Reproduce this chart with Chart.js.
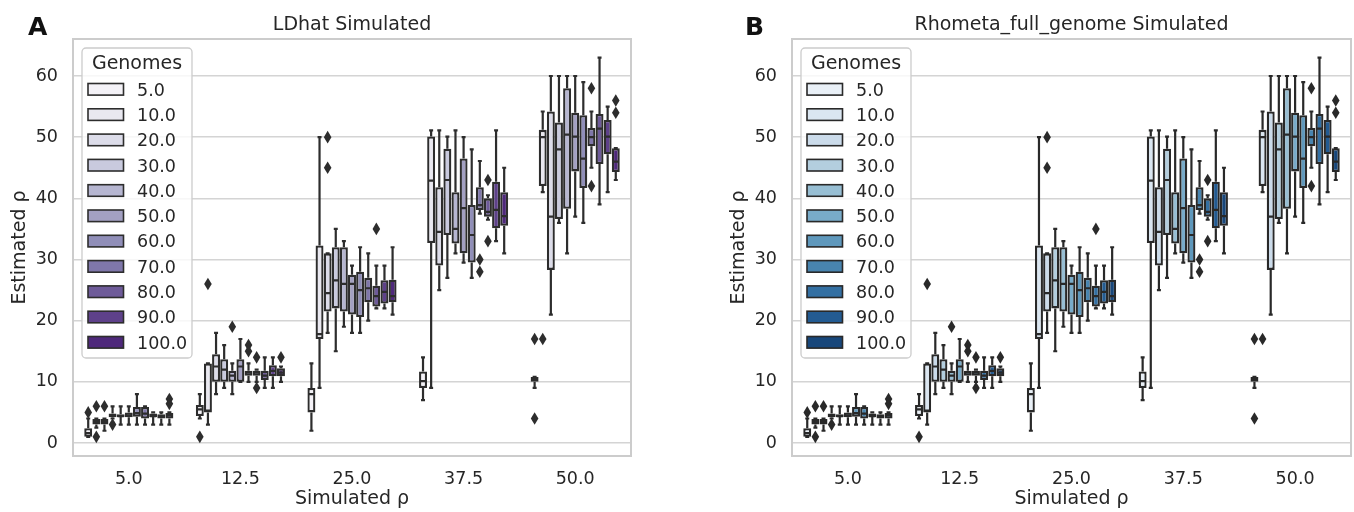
<!DOCTYPE html>
<html>
<head>
<meta charset="utf-8">
<script src="https://cdn.jsdelivr.net/npm/chart.js@4.4.1/dist/chart.umd.min.js"></script>
<style>
	html, body { margin: 0; padding: 0; background: #fff; }
	body { width: 1354px; height: 512px; position: relative; overflow: hidden; }
	canvas { position: absolute; top: 0; }
	#chart-a { left: 0; }
	#chart-b { left: 719px; }
</style>
</head>
<body>
<canvas id="chart-a" width="641" height="512"></canvas>
<canvas id="chart-b" width="635" height="512"></canvas>
<script>
// Categories
const SIM_RHO = ["5.0", "12.5", "25.0", "37.5", "50.0"];
const GENOMES = ["5.0", "10.0", "20.0", "30.0", "40.0", "50.0", "60.0", "70.0", "80.0", "90.0", "100.0"];
const Y_TICKS = [0, 10, 20, 30, 40, 50, 60];

// Box statistics, one row per genome count, one column per simulated rho
const WHISK_LO = [
	[1, 4, 2, 7, 9],
	[2.5, 3, 9, 9, 41],
	[2, 8, 18, 25, 21],
	[4, 9, 15, 27, 36],
	[3, 8, 19, 31, 31],
	[3, 10, 18, 29.5, 37],
	[3, 10, 18, 27, 36],
	[3, 10, 20, 37.5, 45],
	[3, 9, 22, 36.5, 39],
	[3, 9, 22, 33, 41],
	[3, 10, 21, 31, 43],
];
const Q1 = [
	[1, 4.4, 5, 9, 10],
	[3, 5, 17, 32.7, 42],
	[3, 10, 21.5, 29, 28.3],
	[4.2, 10, 22, 34, 36.6],
	[4.2, 10, 21.5, 32.6, 38.3],
	[4.2, 10, 21, 31, 44.4],
	[4.3, 11, 20.6, 29.5, 41.7],
	[4, 11, 23, 38.1, 48.5],
	[4.2, 10.3, 22.3, 37, 45.6],
	[4, 10.9, 22.8, 35.1, 47.2],
	[4, 10.9, 23, 35.5, 44.3],
];
const MEDIAN = [
	[1.6, 5.5, 8, 10.1, 10.3],
	[3.4, 5.3, 17.8, 42.9, 50],
	[3.4, 12.5, 24.5, 34.5, 37],
	[4.5, 12, 26.6, 43, 48],
	[4.4, 11, 26, 35, 50.4],
	[4.5, 12.5, 26, 38.4, 50.1],
	[4.9, 11.5, 25, 34, 46.5],
	[4.8, 11.5, 25.3, 38.9, 50],
	[4.4, 11, 24, 37.8, 51.4],
	[4.3, 11.8, 24.7, 38.1, 50.1],
	[4.5, 11.5, 24, 37.1, 46],
];
const Q3 = [
	[2.4, 6.2, 9, 11.7, 10.8],
	[3.9, 13, 32.3, 50.1, 51.2],
	[3.9, 14.5, 31, 41.8, 54.2],
	[4.8, 13.7, 32, 48.1, 52.4],
	[4.7, 11.8, 32, 41, 58],
	[5, 13.7, 27.5, 46.5, 54],
	[5.9, 11.8, 28, 38.9, 53.6],
	[5.9, 11.8, 27, 41.8, 51.5],
	[4.8, 11.8, 25.7, 40, 53.8],
	[4.7, 12.7, 26.6, 42.7, 52.8],
	[4.9, 12.2, 26.7, 41, 48.2],
];
const WHISK_HI = [
	[4, 8, 13, 14, 10.8],
	[4, 13, 50, 51.1, 54.2],
	[4, 18, 31, 51.1, 60],
	[6, 16, 35, 50.1, 60],
	[6, 13, 33, 51.1, 60],
	[6, 17, 29, 50, 60],
	[8, 13, 32, 48, 59],
	[6, 12, 31, 46.1, 54.2],
	[5, 14, 29, 40.5, 63],
	[5, 14, 29, 51.1, 55],
	[5, 12.5, 32, 45, 48.2],
];
// [genome index, rho index, value]
const OUTLIERS = [
	[0, 0, 5], [1, 0, 6], [1, 0, 1], [2, 0, 6], [3, 0, 3], [10, 0, 7.2], [10, 0, 6.4],
	[0, 1, 1], [1, 1, 26], [4, 1, 19], [6, 1, 16], [6, 1, 15], [7, 1, 14], [7, 1, 9], [10, 1, 14],
	[2, 2, 50], [2, 2, 45], [8, 2, 35],
	[7, 3, 30], [7, 3, 28], [8, 3, 43], [8, 3, 33],
	[0, 4, 17], [0, 4, 4], [1, 4, 17], [7, 4, 58], [7, 4, 42], [10, 4, 56], [10, 4, 54],
];

// ColorBrewer stops of the matplotlib colormaps
const PURPLES = ["#fcfbfd", "#efedf5", "#dadaeb", "#bcbddc", "#9e9ac8", "#807dba", "#6a51a3", "#54278f", "#3f007d"];
const BLUES = ["#f7fbff", "#deebf7", "#c6dbef", "#9ecae1", "#6baed6", "#4292c6", "#2171b5", "#08519c", "#08306b"];

const TEXT = "#262626";
const FONT = "'DejaVu Sans', sans-serif";
Chart.defaults.font.family = FONT;
Chart.defaults.color = TEXT;

const hexToRgb = (h) => [1, 3, 5].map((i) => parseInt(h.slice(i, i + 2), 16) / 255);
const toCss = (c) => `rgb(${c.map((v) => Math.round(v * 255)).join(",")})`;

// seaborn-like palette: sample the cmap, then desaturate to 0.75
const makePalette = (stops, n) => {
	const out = [];
	for (let k = 1; k <= n; k++) {
		const p = (k / (n + 1)) * (stops.length - 1);
		const i = Math.min(Math.floor(p), stops.length - 2);
		const f = p - i;
		const a = hexToRgb(stops[i]);
		const b = hexToRgb(stops[i + 1]);
		const c = a.map((v, j) => v + (b[j] - v) * f);
		const l = (Math.max(...c) + Math.min(...c)) / 2;
		out.push(c.map((v) => l + (v - l) * 0.75));
	}
	return out;
};
const lineGray = (cols) => {
	const lum = Math.min(...cols.map((c) => (Math.max(...c) + Math.min(...c)) / 2)) * 0.55;
	return toCss([lum, lum, lum]);
};

// whiskers, caps, medians and fliers
const boxParts = {
	id: "boxParts",
	afterDatasetsDraw(chart, args, opts) {
		const { ctx } = chart;
		const y = chart.scales.y;
		const py = (v) => y.getPixelForValue(v);
		const pos = [];
		ctx.save();
		ctx.strokeStyle = opts.color;
		ctx.fillStyle = opts.color;
		ctx.lineWidth = 2.2;
		chart.data.datasets.forEach((ds, gi) => {
			pos[gi] = [];
			chart.getDatasetMeta(gi).data.forEach((bar, ci) => {
				const { x, width } = bar.getProps(["x", "width"], true);
				pos[gi][ci] = x;
				const cap = width / 4;
				const half = width / 2;
				ctx.beginPath();
				ctx.moveTo(x, py(Q3[gi][ci]));
				ctx.lineTo(x, py(WHISK_HI[gi][ci]));
				ctx.moveTo(x - cap, py(WHISK_HI[gi][ci]));
				ctx.lineTo(x + cap, py(WHISK_HI[gi][ci]));
				ctx.moveTo(x, py(Q1[gi][ci]));
				ctx.lineTo(x, py(WHISK_LO[gi][ci]));
				ctx.moveTo(x - cap, py(WHISK_LO[gi][ci]));
				ctx.lineTo(x + cap, py(WHISK_LO[gi][ci]));
				ctx.moveTo(x - half + 1, py(MEDIAN[gi][ci]));
				ctx.lineTo(x + half - 1, py(MEDIAN[gi][ci]));
				ctx.stroke();
			});
		});
		OUTLIERS.forEach(([gi, ci, v]) => {
			const x = pos[gi][ci];
			const yy = py(v);
			ctx.beginPath();
			ctx.moveTo(x, yy - 6.3);
			ctx.lineTo(x + 3.8, yy);
			ctx.lineTo(x, yy + 6.3);
			ctx.lineTo(x - 3.8, yy);
			ctx.closePath();
			ctx.fill();
		});
		ctx.restore();
	},
};

// frame, panel title, panel letter and hue legend
const panelDecor = {
	id: "panelDecor",
	afterDraw(chart, args, o) {
		const { ctx, chartArea: a } = chart;
		ctx.save();
		ctx.strokeStyle = "#cccccc";
		ctx.lineWidth = 2;
		ctx.strokeRect(a.left, a.top, a.right - a.left, a.bottom - a.top);

		ctx.fillStyle = TEXT;
		ctx.textBaseline = "alphabetic";
		ctx.textAlign = "center";
		ctx.font = `19px ${FONT}`;
		ctx.fillText(o.title, (a.left + a.right) / 2, 30);
		ctx.textAlign = "left";
		ctx.fillStyle = "#111";
		ctx.font = `bold 25px ${FONT}`;
		ctx.fillText(o.letter, o.letterX, 35);

		// legend
		const lx = a.left + 9;
		const ly = a.top + 9;
		ctx.beginPath();
		ctx.roundRect(lx, ly, 110, 310, 4);
		ctx.fillStyle = "rgba(255,255,255,0.8)";
		ctx.fill();
		ctx.strokeStyle = "#cccccc";
		ctx.lineWidth = 1.3;
		ctx.stroke();
		ctx.fillStyle = TEXT;
		ctx.textAlign = "center";
		ctx.font = `19px ${FONT}`;
		ctx.fillText("Genomes", lx + 55, ly + 20.5);
		ctx.font = `17.5px ${FONT}`;
		ctx.textAlign = "left";
		chart.data.datasets.forEach((ds, i) => {
			const cy = ly + 41.3 + 25.3 * i;
			ctx.fillStyle = ds.backgroundColor;
			ctx.fillRect(lx + 6, cy - 5.8, 35.5, 11.6);
			ctx.strokeStyle = ds.borderColor;
			ctx.lineWidth = 1.6;
			ctx.strokeRect(lx + 6, cy - 5.8, 35.5, 11.6);
			ctx.fillStyle = TEXT;
			ctx.fillText(ds.label, lx + 55, cy + 6.3);
		});
		ctx.restore();
	},
};

const makeChart = (id, stops, title, letter, letterX, padRight) => {
	const cols = makePalette(stops, GENOMES.length);
	const line = lineGray(cols);
	const datasets = GENOMES.map((g, gi) => ({
		label: g,
		data: SIM_RHO.map((r, ci) => [Q1[gi][ci], Q3[gi][ci]]),
		backgroundColor: toCss(cols[gi]),
		borderColor: line,
		borderWidth: 2.3,
		borderSkipped: false,
		categoryPercentage: 0.8,
		barPercentage: 0.98,
	}));

	const CONFIG = {
		type: "bar",
		data: { labels: SIM_RHO, datasets },
		options: {
			responsive: false,
			animation: false,
			events: [],
			layout: { padding: { top: 39, right: padRight, left: 0, bottom: 0 } },
			plugins: {
				legend: { display: false },
				tooltip: { enabled: false },
				title: { display: false },
				boxParts: { color: line },
				panelDecor: { title, letter, letterX },
			},
			scales: {
				x: {
					grid: { display: false, drawTicks: false },
					border: { display: false },
					ticks: { padding: 13, font: { size: 17.5 }, color: TEXT },
					title: { display: true, text: "Simulated ρ", font: { size: 19 }, color: TEXT, padding: { top: 0, bottom: 2 } },
					afterFit: (s) => {
						s.height = 56;
					},
				},
				y: {
					min: -2.13,
					max: 66.05,
					grid: { color: "#d4d4d4", lineWidth: 1.6, drawTicks: false },
					border: { display: false },
					afterBuildTicks: (s) => {
						s.ticks = Y_TICKS.map((v) => ({ value: v }));
					},
					ticks: { padding: 15, font: { size: 17.5 }, color: TEXT },
					title: { display: true, text: "Estimated ρ", font: { size: 19 }, color: TEXT, padding: { top: 9, bottom: 0 } },
					afterFit: (s) => {
						s.width = 73;
					},
				},
			},
		},
		plugins: [boxParts, panelDecor],
	};
	return new Chart(document.getElementById(id), CONFIG);
};

makeChart("chart-a", PURPLES, "LDhat Simulated", "A", 28, 10);
makeChart("chart-b", BLUES, "Rhometa_full_genome Simulated", "B", 26, 3);
</script>
</body>
</html>
